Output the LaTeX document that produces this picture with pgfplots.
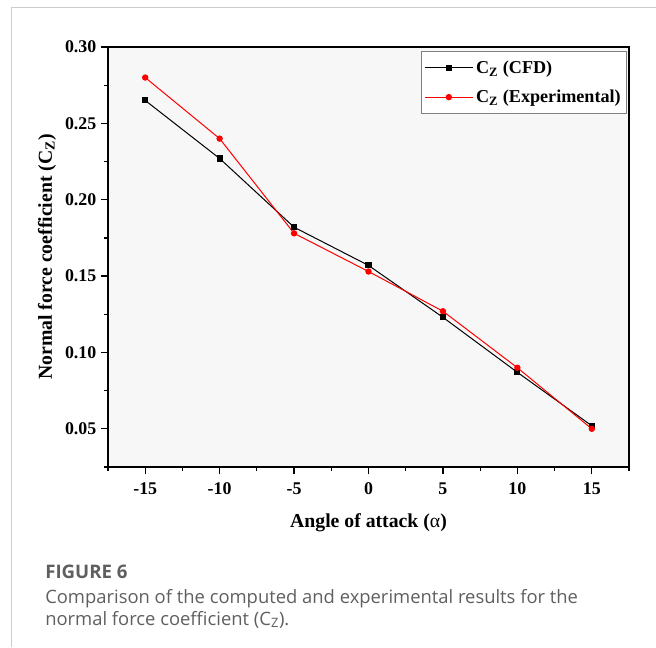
\documentclass[border=0pt]{standalone}
\usepackage{pgfplots}
\pgfplotsset{compat=1.18}
\usepackage{fontspec}
\setmainfont{Liberation Serif}
\newfontfamily\capfont{Open Sans}
\definecolor{capgray}{HTML}{5F5F5F}
\begin{document}
\begin{tikzpicture}[x=0.75pt,y=0.75pt]
\useasboundingbox (0,0) rectangle (656,647);
\draw[black!20, line width=0.75pt] (11,0) -- (11,639) -- (656,639);
\begin{axis}[
  at={(81pt,135pt)}, anchor=south west, scale only axis,
  width=390.75pt, height=315pt,
  xmin=-17.5, xmax=17.5, ymin=0.025, ymax=0.30,
  xtick={-15,-10,-5,0,5,10,15},
  ytick={0.05,0.10,0.15,0.20,0.25,0.30},
  minor xtick={-17.5,-12.5,-7.5,-2.5,2.5,7.5,12.5,17.5},
  minor ytick={0.025,0.075,0.125,0.175,0.225,0.275},
  tick align=outside, xtick pos=bottom, ytick pos=left,
  major tick length=5.25pt, minor tick length=2.8pt,
  every tick/.style={black, line width=0.9pt},
  axis line style={line width=1.1pt},
  axis background/.style={fill=black!3},
  /pgf/number format/assume math mode=true,
  ticklabel style={font=\bfseries\fontsize{13.4}{15}\selectfont},
  yticklabel style={/pgf/number format/.cd, fixed, fixed zerofill, precision=2},
  xticklabel style={yshift=-3pt},
  every axis y label/.style={at={(axis description cs:0,0.5)}, xshift=-45.75pt, rotate=90, anchor=center, font=\bfseries\fontsize{14.8}{17}\selectfont},
  every axis x label/.style={at={(axis description cs:0.5,0)}, yshift=-41.5pt, anchor=center, font=\bfseries\fontsize{14.8}{17}\selectfont},
  ylabel={Normal force coefficient (C\textsubscript{Z})},
  xlabel={Angle of attack ({\mdseries α})},
  legend style={at={(rel axis cs:1,1)}, anchor=north east, xshift=-1.5pt, yshift=-3pt,
    draw=black!50, font=\bfseries\fontsize{13.6}{15}\selectfont, inner xsep=2.5pt, inner ysep=5pt,
    /tikz/every even column/.append style={column sep=0pt}, row sep=7pt},
  legend cell align=left,
  legend image code/.code={\draw[mark repeat=2,mark phase=2] plot coordinates {(0cm,0cm) (0.635cm,0cm) (1.27cm,0cm)};},
]
\addplot[black, line width=0.75pt, mark=square*, mark size=1.9pt] coordinates {
  (-15,0.265) (-10,0.227) (-5,0.182) (0,0.157) (5,0.123) (10,0.087) (15,0.052)};
\addlegendentry{C\textsubscript{Z} (CFD)}
\addplot[red, line width=0.75pt, mark=*, mark size=2pt] coordinates {
  (-15,0.280) (-10,0.240) (-5,0.178) (0,0.153) (5,0.127) (10,0.090) (15,0.050)};
\addlegendentry{C\textsubscript{Z} (Experimental)}
\end{axis}
\node[anchor=base west, inner sep=0pt, font=\capfont\bfseries\fontsize{14}{16}\selectfont, text=capgray] at (45,69) {FIGURE 6};
\node[anchor=base west, inner sep=0pt, font=\capfont\fontsize{13.8}{16}\selectfont, text=capgray] at (45,44) {Comparison of the computed and experimental results for the};
\node[anchor=base west, inner sep=0pt, font=\capfont\fontsize{13.8}{16}\selectfont, text=capgray] at (45,22) {normal force coefficient (C\textsubscript{Z}).};
\end{tikzpicture}
\end{document}
